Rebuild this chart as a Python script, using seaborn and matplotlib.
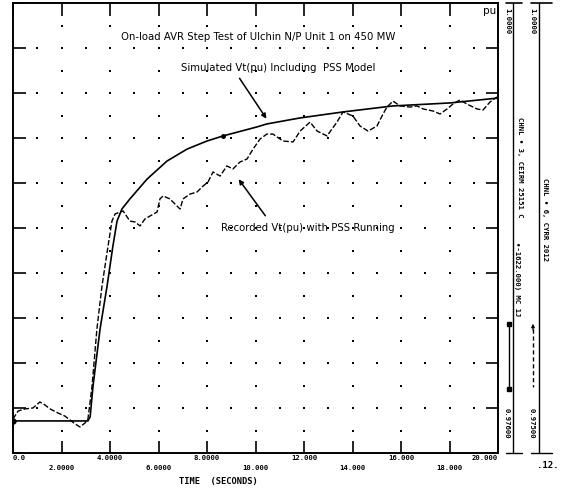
import numpy as np
import pandas as pd
import matplotlib
matplotlib.use("Agg")
import matplotlib.pyplot as plt
import matplotlib.transforms as mtransforms
import seaborn as sns

# ---------------- data ----------------
sim_t = [0.0, 3.09, 3.18, 3.30, 3.59, 3.88, 4.12, 4.29, 4.49, 4.82, 5.53, 6.35,
         7.18, 8.00, 8.66, 10.06, 10.47, 11.84, 13.61, 15.67, 18.02, 20.0]
sim_v = [0.97771, 0.97771, 0.97792, 0.97957, 0.98261, 0.98491, 0.98704, 0.98837,
         0.98901, 0.98955, 0.99061, 0.99157, 0.99221, 0.99264, 0.99291, 0.99339,
         0.99355, 0.99387, 0.99419, 0.99451, 0.99467, 0.99493]

rec_t = [0.0, 0.21, 0.49, 0.82, 1.11, 1.32, 1.53, 1.86, 2.14, 2.35, 2.56, 2.76,
         2.97, 3.09, 3.26, 3.46, 3.67, 3.92, 4.08, 4.21, 4.54, 4.82, 5.03, 5.24,
         5.44, 5.65, 5.94, 6.06, 6.19, 6.47, 6.89, 7.01, 7.30, 7.59, 7.84, 8.04,
         8.25, 8.54, 8.82, 9.07, 9.36, 9.65, 9.90, 10.19, 10.47, 10.72, 11.13,
         11.55, 11.84, 12.25, 12.54, 12.95, 13.36, 13.61, 14.02, 14.31, 14.64,
         15.01, 15.26, 15.42, 15.67, 15.96, 16.37, 16.66, 16.91, 17.32, 17.61,
         17.90, 18.14, 18.43, 18.72, 19.13, 19.38, 19.67, 19.96]
rec_v = [0.97781, 0.97824, 0.97835, 0.97840, 0.97872, 0.97856, 0.97835, 0.97813,
         0.97797, 0.97776, 0.97755, 0.97739, 0.97760, 0.97781, 0.97957, 0.98261,
         0.98491, 0.98704, 0.98837, 0.98875, 0.98891, 0.98837, 0.98832, 0.98811,
         0.98848, 0.98864, 0.98885, 0.98955, 0.98971, 0.98955, 0.98901, 0.98955,
         0.98981, 0.98992, 0.99024, 0.99045, 0.99099, 0.99077, 0.99131, 0.99115,
         0.99152, 0.99168, 0.99221, 0.99275, 0.99301, 0.99301, 0.99264, 0.99259,
         0.99317, 0.99365, 0.99317, 0.99291, 0.99365, 0.99419, 0.99397, 0.99344,
         0.99317, 0.99344, 0.99408, 0.99445, 0.99477, 0.99451, 0.99445, 0.99451,
         0.99435, 0.99424, 0.99408, 0.99435, 0.99461, 0.99483, 0.99461, 0.99435,
         0.99429, 0.99472, 0.99499]

x_ticks = [0, 2, 4, 6, 8, 10, 12, 14, 16, 18, 20]
x_tick_labels = ["0.0", "2.0000", "4.0000", "6.0000", "8.0000", "10.000",
                 "12.000", "14.000", "16.000", "18.000", "20.000"]
y_min, y_max, y_step = 0.976, 1.000, 0.0024

title = "On-load AVR Step Test of Ulchin N/P Unit 1 on 450 MW"
sim_label = "Simulated Vt(pu) Including  PSS Model"
rec_label = "Recorded Vt(pu) with PSS Running"

# ---------------- figure ----------------
sns.set_style("white")
plt.rcParams["text.color"] = "black"
W, H = 568, 489
fig = plt.figure(figsize=(W / 100, H / 100), dpi=100)
L, R, T, B = 13, 498, 4, 454
ax = fig.add_axes([L / W, 1 - B / H, (R - L) / W, (B - T) / H])

def fpx(x, y):
    return x / W, 1 - y / H

sim_df = pd.DataFrame({"t": sim_t, "v": sim_v})
rec_df = pd.DataFrame({"t": rec_t, "v": rec_v})

sns.lineplot(data=sim_df, x="t", y="v", ax=ax, color="black", lw=1.2)
sns.lineplot(data=rec_df, x="t", y="v", ax=ax, color="black", lw=1.0,
             linestyle=(0, (4, 1.5)))
ax.plot(sim_t[0], sim_v[0], "o", color="black", ms=3.5)
ax.plot(sim_t[14], sim_v[14], "o", color="black", ms=2.5)

ax.set_xlim(0, 20)
ax.set_ylim(y_min, y_max)

# dot grid
y_major = np.arange(y_min, y_max + 1e-9, y_step)
x_major = np.array(x_ticks, dtype=float)
x_minor = np.arange(1, 20, 1.0)
gx, gy = np.meshgrid(x_minor, y_major[1:-1])
ax.scatter(gx.ravel(), gy.ravel(), s=2.0, color="black", marker="s", lw=0)
y_half = y_major[:-1] + y_step / 2
gx2, gy2 = np.meshgrid(x_major[1:-1], y_half)
ax.scatter(gx2.ravel(), gy2.ravel(), s=2.0, color="black", marker="s", lw=0)

# ticks
ax.set_xticks(x_major)
ax.set_xticklabels([])
ax.set_yticks(y_major)
ax.set_yticklabels([])
ax.tick_params(axis="both", direction="in", length=9, width=1.2, color="black",
               top=True, bottom=True, left=True, right=True)
for s in ax.spines.values():
    s.set_color("black")
    s.set_linewidth(1.4)
ax.set_xlabel("")
ax.set_ylabel("")

# staggered x tick labels
trans = mtransforms.blended_transform_factory(ax.transData, fig.transFigure)
for i, (xv, lab) in enumerate(zip(x_ticks, x_tick_labels)):
    yy = 1 - (458 if i % 2 == 0 else 468) / H
    ha = "center"
    if i == 0:
        ha = "left"
    elif i == len(x_ticks) - 1:
        ha = "right"
    ax.text(xv, yy, lab, transform=trans, ha=ha, va="center", color="black",
            fontsize=5.2, family="DejaVu Sans Mono", fontweight="bold")

fig.text(*fpx(218, 482), "TIME  (SECONDS)", ha="center", va="center",
         fontsize=6.3, family="DejaVu Sans Mono", fontweight="bold")
fig.text(*fpx(548, 466), ".12.", ha="center", va="center",
         fontsize=6.5, family="DejaVu Sans Mono", fontweight="bold")

# annotations
fig.text(*fpx(258, 37), title, ha="center", va="center", fontsize=7.3)
fig.text(*fpx(490, 11), "pu", ha="center", va="center", fontsize=7.5)
fig.text(*fpx(278, 68), sim_label, ha="center", va="center", fontsize=7.3)
fig.text(*fpx(308, 228), rec_label, ha="center", va="center", fontsize=7.3)

ax.annotate("", xy=fpx(268, 122), xycoords="figure fraction",
            xytext=fpx(238, 77), textcoords="figure fraction",
            arrowprops=dict(arrowstyle="-|>", color="black", lw=1.1,
                            mutation_scale=7))
ax.annotate("", xy=fpx(237, 178), xycoords="figure fraction",
            xytext=fpx(267, 219), textcoords="figure fraction",
            arrowprops=dict(arrowstyle="-|>", color="black", lw=1.1,
                            mutation_scale=7))

# right-side channel scale bars
def fline(xs, ys, **kw):
    fig.add_artist(plt.Line2D([x / W for x in xs], [1 - y / H for y in ys],
                              transform=fig.transFigure, color="black", **kw))

fline([513, 513], [4, 454], lw=1.0)
fline([506, 522], [4, 4], lw=1.2)
fline([506, 522], [454, 454], lw=1.0)
fline([539, 539], [4, 454], lw=1.0)
fline([531, 552], [4, 4], lw=1.2)
fline([531, 552], [454, 454], lw=1.0)

txt_kw = dict(rotation=270, ha="center", va="top", fontsize=5.2,
              family="DejaVu Sans Mono", fontweight="bold")
fig.text(*fpx(507, 8), "1.0000", **txt_kw)
fig.text(*fpx(507, 408), "0.97600", **txt_kw)
fig.text(*fpx(532, 8), "1.0000", **txt_kw)
fig.text(*fpx(532, 408), "0.97500", **txt_kw)
fig.text(*fpx(520, 117), "CHNL • 3, CEIRM 25151 C", **txt_kw)
fig.text(*fpx(517, 242), "•-1622.000) MC 1J", **txt_kw)
fig.text(*fpx(545, 178), "CHNL • 6, CYRR 2012", **txt_kw)

# channel legend marks
fline([509, 509], [325, 390], lw=1.0)
fig.add_artist(plt.Line2D([509 / W, 509 / W], [1 - 325 / H, 1 - 390 / H],
                          transform=fig.transFigure, color="black",
                          marker="s", ms=3, lw=0))
fline([533, 533], [330, 388], lw=1.0, linestyle=(0, (3, 2)))
ax.annotate("", xy=fpx(533, 322), xycoords="figure fraction",
            xytext=fpx(533, 334), textcoords="figure fraction",
            arrowprops=dict(arrowstyle="-|>", color="black", lw=0.8,
                            mutation_scale=5))

fig.savefig("out.png", dpi=100)
